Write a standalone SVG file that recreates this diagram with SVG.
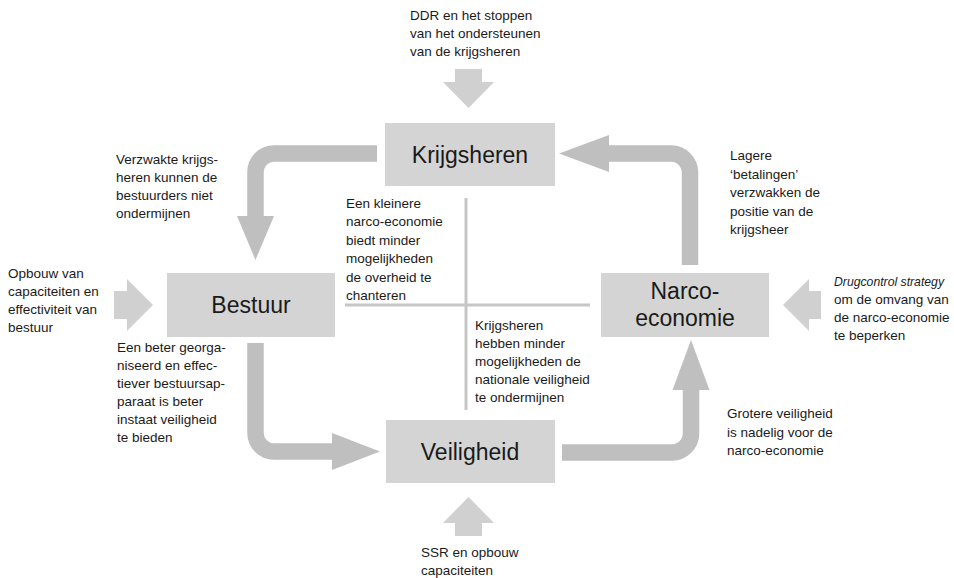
<svg xmlns="http://www.w3.org/2000/svg" width="954" height="578" viewBox="0 0 954 578">
<style>
.box{fill:#d4d4d4}
.lbl{font-family:"Liberation Sans",Arial,sans-serif;font-size:23px;fill:#1a1a1a;text-anchor:middle}
.t{font-family:"Liberation Sans",Arial,sans-serif;font-size:13.5px;fill:#1a1a1a}
.bend{fill:none;stroke:#bfbfbf;stroke-width:16.5}
.head{fill:#bfbfbf}
.inp{fill:#d0d0d0}
.cross{stroke:#c6c6c6;stroke-width:3;fill:none}
</style>
<rect width="954" height="578" fill="#ffffff"/>
<g id="connectors">
  <path class="bend" d="M377 153.5 H274 A18.5 18.5 0 0 0 255.5 172 V218"/>
  <polygon class="head" points="237,216 274,216 255.5,260"/>
  <path class="bend" d="M255.5 343 V433 A18.5 18.5 0 0 0 274 451.5 H334"/>
  <polygon class="head" points="332,433 332,470 380,451.5"/>
  <path class="bend" d="M562 452.5 H672 A19 19 0 0 0 691 433.5 V388"/>
  <polygon class="head" points="672.5,390 709.5,390 691,340"/>
  <path class="bend" d="M690 265 V172.5 A19 19 0 0 0 671 153.5 H607"/>
  <polygon class="head" points="609,135 609,172 559,153.5"/>
  <line class="cross" x1="466" y1="198" x2="466" y2="410"/>
  <line class="cross" x1="345" y1="305" x2="590" y2="305"/>
  <polygon id="in-ddr" class="inp" points="455,69 482,69 482,82 494,82 468.5,108 443,82 455,82"/>
  <polygon id="in-ssr" class="inp" points="455,536 482,536 482,523 494,523 468.5,497 443,523 455,523"/>
  <polygon id="in-opbouw" class="inp" points="114,291 127,291 127,279 153,305 127,331 127,319 114,319"/>
  <polygon id="in-drug" class="inp" points="821,291 809,291 809,279 783,305 809,331 809,319 821,319"/>
</g>
<g id="node-krijgsheren">
  <rect class="box" x="385" y="123" width="170" height="63"/>
  <text class="lbl" x="470" y="163">Krijgsheren</text>
</g>
<g id="node-bestuur">
  <rect class="box" x="167" y="273" width="168" height="64"/>
  <text class="lbl" x="251" y="313">Bestuur</text>
</g>
<g id="node-veiligheid">
  <rect class="box" x="386" y="420" width="169" height="63"/>
  <text class="lbl" x="470" y="460">Veiligheid</text>
</g>
<g id="node-narco">
  <rect class="box" x="601" y="273" width="168" height="64"/>
  <text class="lbl" x="685" y="299">Narco-</text>
  <text class="lbl" x="685" y="326">economie</text>
</g>
<g id="labels">
  <text class="t" x="410" y="20">DDR en het stoppen</text>
  <text class="t" x="410" y="38">van het ondersteunen</text>
  <text class="t" x="410" y="56">van de krijgsheren</text>
  <text class="t" x="116" y="164">Verzwakte krijgs-</text>
  <text class="t" x="116" y="182">heren kunnen de</text>
  <text class="t" x="116" y="200">bestuurders niet</text>
  <text class="t" x="116" y="218">ondermijnen</text>
  <text class="t" x="346" y="207.5">Een kleinere</text>
  <text class="t" x="346" y="226">narco-economie</text>
  <text class="t" x="346" y="244.5">biedt minder</text>
  <text class="t" x="346" y="263">mogelijkheden</text>
  <text class="t" x="346" y="281.5">de overheid te</text>
  <text class="t" x="346" y="300">chanteren</text>
  <text class="t" x="730" y="160">Lagere</text>
  <text class="t" x="730" y="178.5">‘betalingen’</text>
  <text class="t" x="730" y="197">verzwakken de</text>
  <text class="t" x="730" y="215.5">positie van de</text>
  <text class="t" x="730" y="234">krijgsheer</text>
  <text class="t" x="8" y="278">Opbouw van</text>
  <text class="t" x="8" y="296">capaciteiten en</text>
  <text class="t" x="8" y="314">effectiviteit van</text>
  <text class="t" x="8" y="332">bestuur</text>
  <text class="t" x="834" y="286" font-style="italic" textLength="110" lengthAdjust="spacingAndGlyphs">Drugcontrol strategy</text>
  <text class="t" x="834" y="304">om de omvang van</text>
  <text class="t" x="834" y="322">de narco-economie</text>
  <text class="t" x="834" y="340">te beperken</text>
  <text class="t" x="475" y="330">Krijgsheren</text>
  <text class="t" x="475" y="348">hebben minder</text>
  <text class="t" x="475" y="366">mogelijkheden de</text>
  <text class="t" x="475" y="384">nationale veiligheid</text>
  <text class="t" x="475" y="402">te ondermijnen</text>
  <text class="t" x="117" y="352">Een beter georga-</text>
  <text class="t" x="117" y="370">niseerd en effec-</text>
  <text class="t" x="117" y="388">tiever bestuursap-</text>
  <text class="t" x="117" y="406">paraat is beter</text>
  <text class="t" x="117" y="424">instaat veiligheid</text>
  <text class="t" x="117" y="442">te bieden</text>
  <text class="t" x="727" y="418">Grotere veiligheid</text>
  <text class="t" x="727" y="436.5">is nadelig voor de</text>
  <text class="t" x="727" y="455">narco-economie</text>
  <text class="t" x="421" y="557">SSR en opbouw</text>
  <text class="t" x="421" y="575">capaciteiten</text>
</g>
</svg>
